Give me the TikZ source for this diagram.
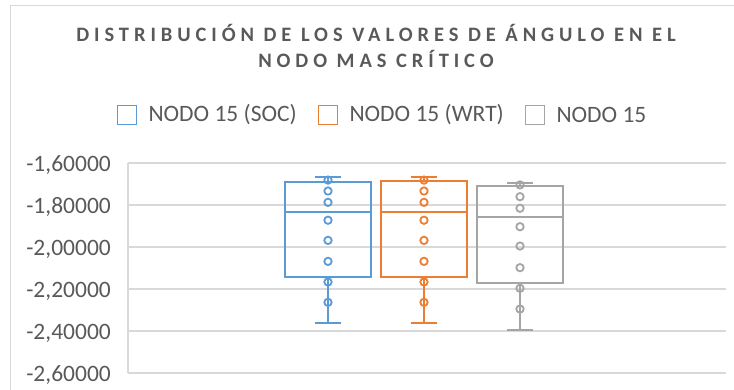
\documentclass[tikz,border=0pt]{standalone}
\usepackage{fontspec}
\setmainfont{Carlito}
\usetikzlibrary{positioning}
\definecolor{socblue}{HTML}{5B9BD5}
\definecolor{wrtorange}{HTML}{ED7D31}
\definecolor{nodgray}{HTML}{A5A5A5}
\definecolor{gridgray}{HTML}{D9D9D9}
\definecolor{txtgray}{HTML}{595959}
\tikzset{
  gridline/.style={draw=gridgray, line width=1.8pt},
  boxline/.style={line width=2pt},
  ticklabel/.style={anchor=east, text=txtgray, inner sep=0pt, font=\fontsize{23.5}{28}\selectfont},
  legtext/.style={anchor=west, text=txtgray, inner sep=0pt, font=\fontsize{23.5}{28}\selectfont},
  legbox/.style={draw, line width=1.6pt, minimum size=19pt, inner sep=0pt},
  charttitle/.style={text=txtgray, inner sep=0pt, font=\fontsize{20.5}{24}\selectfont\bfseries\addfontfeature{LetterSpace=24}}
}
% one box: colour, centre, whisker top, Q3, median, Q1, whisker bottom, points
\newcommand{\drawbox}[8]{
  \draw [#1, boxline] (#2-13,#3) -- (#2+13,#3);
  \draw [#1, boxline] (#2,#3) -- (#2,#4);
  \draw [#1, boxline] (#2-43,#4) rectangle (#2+43,#6);
  \draw [#1, boxline] (#2-43,#5) -- (#2+43,#5);
  \draw [#1, boxline] (#2,#6) -- (#2,#7);
  \draw [#1, boxline] (#2-13,#7) -- (#2+13,#7);
  \foreach \v in {#8}
    \draw [#1, line width=1.8pt] (#2,\v) circle [radius=3.7pt];
}
\begin{document}
\begin{tikzpicture}[x=1pt, y=1pt]
\useasboundingbox (0,0) rectangle (734,390);

% chart frame
\draw [gridgray, line width=0.8pt] (10.7,0) -- (10.7,385) -- (734,385);

% title
\node [charttitle] (title1) at (376,357) {DISTRIBUCIÓN DE LOS VALORES DE ÁNGULO EN EL};
\node [charttitle] (title2) at (376,331) {NODO MAS CRÍTICO};

% legend
\node [legbox, socblue] (leg1) at (127,275) {};
\node [legtext, right=11pt of leg1] (leg1t) {NODO 15 (SOC)};
\node [legbox, wrtorange] (leg2) at (328,275) {};
\node [legtext, right=11pt of leg2] (leg2t) {NODO 15 (WRT)};
\node [legbox, nodgray] (leg3) at (535,275) {};
\node [legtext, right=11pt of leg3] (leg3t) {NODO 15};

\begin{scope}[x=1pt, y=210pt, yshift=562.7pt]
  % grid and axis
  \foreach \v/\lab in {-1.6/{-1,60000}, -1.8/{-1,80000}, -2.0/{-2,00000}, -2.2/{-2,20000}, -2.4/{-2,40000}, -2.6/{-2,60000}} {
    \draw [gridline] (128,\v) -- (726,\v);
    \node [ticklabel] at (111,\v-0.008) {\lab};
  }
  \draw [gridline] (128,-1.6) -- (128,-2.6);

  % boxes
  \drawbox{socblue}{328}{-1.667}{-1.688}{-1.830}{-2.140}{-2.359}{-1.680,-1.732,-1.786,-1.871,-1.967,-2.067,-2.165,-2.262}
  \drawbox{wrtorange}{424}{-1.667}{-1.684}{-1.830}{-2.140}{-2.359}{-1.680,-1.732,-1.786,-1.871,-1.967,-2.067,-2.165,-2.262}
  \drawbox{nodgray}{520}{-1.692}{-1.707}{-1.857}{-2.171}{-2.394}{-1.703,-1.759,-1.814,-1.902,-1.994,-2.097,-2.195,-2.294}
\end{scope}
\end{tikzpicture}
\end{document}
